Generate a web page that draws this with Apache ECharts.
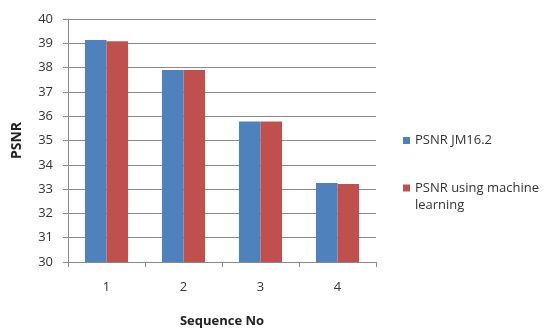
<!DOCTYPE html>
<html>
<head>
<meta charset="utf-8">
<script src="https://cdn.jsdelivr.net/npm/echarts@6/dist/echarts.min.js"></script>
<style>
  html, body { margin: 0; padding: 0; background: #fff; }
  #chart { width: 545px; height: 328px; }
</style>
</head>
<body>
<div id="chart"></div>
<script>
// Sequence numbers and PSNR values (dB) for the two coders
const categories = ['1', '2', '3', '4'];
const psnrJM = [39.14, 37.9, 35.78, 33.25];
const psnrML = [39.08, 37.9, 35.78, 33.21];
const seriesNames = ['PSNR JM16.2', 'PSNR using machine learning'];

const FONT = '"Open Sans", "Liberation Sans", sans-serif';
const GRID = '#8a8a8a';

const chart = echarts.init(document.getElementById('chart'), null, { renderer: 'canvas' });

const legendText = { fontFamily: FONT, fontSize: 13, color: '#333', lineHeight: 14 };

chart.setOption({
  animation: false,
  backgroundColor: '#ffffff',
  grid: { left: 68, right: 169, top: 19, bottom: 66, containLabel: false, outerBoundsMode: 'none' },
  legend: [
    {
      data: [seriesNames[0]],
      left: 403, top: 133.5, padding: 0,
      itemWidth: 7, itemHeight: 7,
      icon: 'rect',
      textStyle: legendText
    },
    {
      // long label wraps after "machine"; a blank lead line keeps the swatch beside the first line
      data: [seriesNames[1]],
      left: 403, top: 162.5, padding: 0,
      itemWidth: 7, itemHeight: 7,
      icon: 'rect',
      formatter: () => ' \nPSNR using machine\nlearning',
      textStyle: Object.assign({}, legendText, { lineHeight: 17 })
    }
  ],
  xAxis: {
    type: 'category',
    data: categories,
    name: 'Sequence No',
    nameLocation: 'middle',
    nameGap: 53,
    nameTextStyle: { fontFamily: FONT, fontSize: 13, fontWeight: 'bold', color: '#222' },
    axisLine: { lineStyle: { color: GRID, width: 1 } },
    axisTick: { show: true, length: 5, alignWithLabel: false, lineStyle: { color: GRID } },
    axisLabel: { fontFamily: FONT, fontSize: 13, color: '#333', margin: 19 },
    splitLine: { show: false }
  },
  yAxis: {
    type: 'value',
    min: 30, max: 40, interval: 1,
    name: 'PSNR',
    nameLocation: 'middle',
    nameRotate: 90,
    nameGap: 44,
    nameTextStyle: { fontFamily: FONT, fontSize: 14, fontWeight: 'bold', color: '#222' },
    axisLine: { show: true, lineStyle: { color: GRID, width: 1 } },
    axisTick: { show: true, length: 5, lineStyle: { color: GRID } },
    axisLabel: { fontFamily: FONT, fontSize: 13, color: '#333', margin: 15 },
    splitLine: { show: true, lineStyle: { color: GRID, width: 1 } }
  },
  series: [
    {
      name: seriesNames[0], type: 'bar', data: psnrJM,
      barGap: '0%', barCategoryGap: '44%',
      itemStyle: { color: '#4F81BD' }
    },
    {
      name: seriesNames[1], type: 'bar', data: psnrML,
      barGap: '0%', barCategoryGap: '44%',
      itemStyle: { color: '#C0504D' }
    }
  ]
});
</script>
</body>
</html>
